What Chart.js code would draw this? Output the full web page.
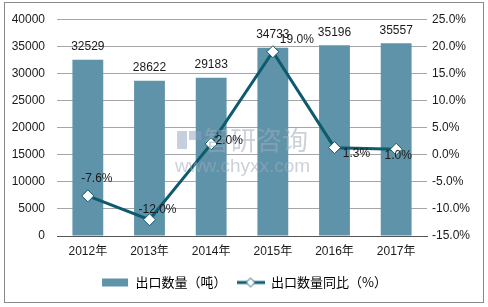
<!DOCTYPE html>
<html><head><meta charset="utf-8">
<script src="https://cdn.jsdelivr.net/npm/chart.js@4/dist/chart.umd.min.js"></script>
<style>html,body{margin:0;padding:0;background:#fff}canvas{display:block}</style>
</head><body>
<canvas id="c" width="488" height="307"></canvas>
<script>
const categories = ['2012年','2013年','2014年','2015年','2016年','2017年'];
const exportQty = [32529, 28622, 29183, 34733, 35196, 35557];
const exportYoY = [-7.6, -12.0, 2.0, 19.0, 1.3, 1.0];
const seriesNames = ['出口数量（吨）', '出口数量同比（%）'];
const leftAxis = {min: 0, max: 40000, step: 5000};
const rightAxis = {min: -15, max: 25, step: 5};

const FONT = "'Liberation Sans','Noto Sans CJK SC',sans-serif";
const CJK_FONT = "'Noto Sans CJK JP','Noto Sans CJK SC',sans-serif";
const BAR_COLOR = '#5E93A9';
const LINE_COLOR = '#0E5B6E';

function legendImg(kind){
  const cv = document.createElement('canvas');
  cv.width = 28; cv.height = 12;
  const g = cv.getContext('2d');
  if (kind === 'bar') {
    g.fillStyle = BAR_COLOR; g.fillRect(1, 2, 26, 8);
  } else {
    g.strokeStyle = LINE_COLOR; g.lineWidth = 3;
    g.beginPath(); g.moveTo(0, 6); g.lineTo(28, 6); g.stroke();
    g.fillStyle = '#fff'; g.lineWidth = 1;
    g.beginPath(); g.moveTo(14, 1.5); g.lineTo(18.5, 6); g.lineTo(14, 10.5); g.lineTo(9.5, 6); g.closePath();
    g.fill(); g.stroke();
  }
  return cv;
}

const framePlugin = {
  id: 'frame',
  beforeDraw(chart){
    const ctx = chart.ctx;
    ctx.save();
    ctx.fillStyle = '#fff'; ctx.fillRect(0, 0, chart.width, chart.height);
    ctx.strokeStyle = '#8a8a8a'; ctx.lineWidth = 1;
    ctx.strokeRect(4.5, 2.5, 479, 300);
    ctx.restore();
  }
};

const labelPlugin = {
  id: 'labels',
  afterDatasetsDraw(chart){
    const ctx = chart.ctx;
    ctx.save();
    ctx.font = '12px ' + FONT;
    ctx.fillStyle = '#1a1a1a';
    ctx.textAlign = 'center'; ctx.textBaseline = 'middle';
    // watermark
    ctx.save();
    ctx.fillStyle = 'rgba(160,172,186,0.55)';
    ctx.textAlign = 'left';
    ctx.font = "26px 'Noto Sans CJK SC',sans-serif";
    ctx.fillText('智研咨询', 204, 140);
    ctx.font = "19px 'Liberation Sans',sans-serif";
    ctx.fillText('www.chyxx.com', 175, 167);
    ctx.fillStyle = 'rgba(140,160,190,0.5)';
    ctx.fillRect(177, 131, 10, 18); ctx.fillRect(189, 131, 12, 9);
    ctx.restore();

    const barMeta = chart.getDatasetMeta(1);
    barMeta.data.forEach((el, i) => {
      ctx.fillText(String(exportQty[i]), el.x, el.y - 13);
    });
    const lineMeta = chart.getDatasetMeta(0);
    const offs = [[9,-17],[8,-10],[18,-3],[24,-12],[22,6],[2,6]];
    lineMeta.data.forEach((el, i) => {
      ctx.fillText(exportYoY[i].toFixed(1) + '%', el.x + offs[i][0], el.y + offs[i][1]);
    });
    ctx.restore();
  }
};

new Chart(document.getElementById('c'), {
  data: {
    labels: categories,
    datasets: [
      {
        type: 'line', label: seriesNames[1], data: exportYoY, yAxisID: 'y2', order: 0,
        borderColor: LINE_COLOR, borderWidth: 3, tension: 0,
        pointStyle: 'rectRot', pointRadius: 6, pointBackgroundColor: '#fff',
        pointBorderColor: LINE_COLOR, pointBorderWidth: 1
      },
      {
        type: 'bar', label: seriesNames[0], data: exportQty, yAxisID: 'y', order: 1,
        backgroundColor: BAR_COLOR, barPercentage: 0.5, categoryPercentage: 1
      }
    ]
  },
  options: {
    responsive: false, animation: false,
    layout: {padding: {left: 0, right: 0, top: 17, bottom: 8}},
    plugins: {
      tooltip: {enabled: false},
      legend: {
        position: 'bottom',
        labels: {
          usePointStyle: true, pointStyleWidth: 28, padding: 10,
          color: '#1a1a1a', font: {family: CJK_FONT, size: 13},
          generateLabels(){
            return [
              {text: seriesNames[0], pointStyle: legendImg('bar'), fillStyle: BAR_COLOR, strokeStyle: 'transparent', lineWidth: 0, hidden: false, datasetIndex: 1},
              {text: seriesNames[1], pointStyle: legendImg('line'), fillStyle: LINE_COLOR, strokeStyle: 'transparent', lineWidth: 0, hidden: false, datasetIndex: 0}
            ];
          }
        }
      }
    },
    scales: {
      x: {
        grid: {display: false, drawTicks: false},
        border: {color: '#555', width: 1},
        ticks: {color: '#1a1a1a', font: {family: FONT, size: 12}, padding: 8},
        afterFit(s){ s.height = 30; }
      },
      y: {
        position: 'left', min: leftAxis.min, max: leftAxis.max,
        ticks: {stepSize: leftAxis.step, color: '#1a1a1a', font: {family: FONT, size: 12}, padding: 12,
          callback: v => String(v)},
        grid: {color: '#a6a6a6', drawTicks: false},
        border: {display: false},
        afterFit(s){ s.width = 57; }
      },
      y2: {
        position: 'right', min: rightAxis.min, max: rightAxis.max,
        ticks: {stepSize: rightAxis.step, color: '#1a1a1a', font: {family: FONT, size: 12}, padding: 5,
          callback: v => Number(v).toFixed(1) + '%'},
        grid: {display: false, drawTicks: false},
        border: {display: false},
        afterFit(s){ s.width = 61; }
      }
    }
  },
  plugins: [framePlugin, labelPlugin]
});
</script>
</body></html>
